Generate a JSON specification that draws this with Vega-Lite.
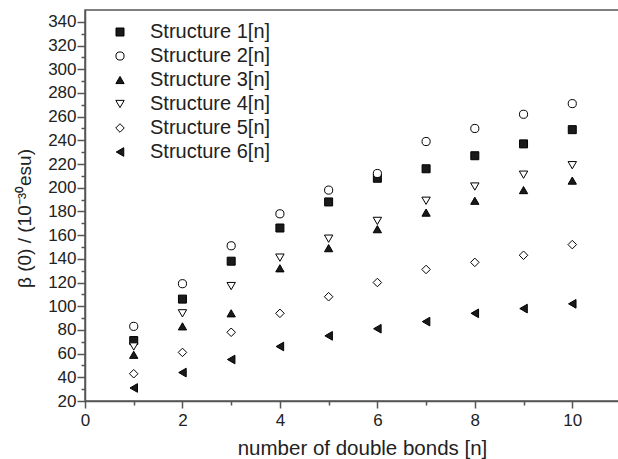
{
  "$schema": "https://vega.github.io/schema/vega-lite/v6.json",
  "autosize": "none",
  "padding": {"left": 85, "top": 10, "right": 0, "bottom": 58},
  "width": 536,
  "height": 391,
  "background": "white",
  "config": {
    "view": {"stroke": "#555", "strokeWidth": 1.5},
    "font": "Liberation Sans",
    "axis": {
      "grid": false,
      "labelFont": "Liberation Sans",
      "titleFont": "Liberation Sans",
      "labelColor": "#222",
      "titleColor": "#222",
      "domainColor": "#555",
      "tickColor": "#555",
      "domainWidth": 1.5,
      "tickWidth": 1.5,
      "labelFontSize": 17,
      "titleFontSize": 21,
      "titleFontWeight": "normal"
    }
  },
  "data": {
    "values": [
      {"n": 1, "s": "Structure 1[n]", "v": 71},
      {"n": 2, "s": "Structure 1[n]", "v": 106},
      {"n": 3, "s": "Structure 1[n]", "v": 138},
      {"n": 4, "s": "Structure 1[n]", "v": 166},
      {"n": 5, "s": "Structure 1[n]", "v": 188},
      {"n": 6, "s": "Structure 1[n]", "v": 208},
      {"n": 7, "s": "Structure 1[n]", "v": 216},
      {"n": 8, "s": "Structure 1[n]", "v": 227},
      {"n": 9, "s": "Structure 1[n]", "v": 237},
      {"n": 10, "s": "Structure 1[n]", "v": 249},
      {"n": 1, "s": "Structure 2[n]", "v": 83},
      {"n": 2, "s": "Structure 2[n]", "v": 119},
      {"n": 3, "s": "Structure 2[n]", "v": 151},
      {"n": 4, "s": "Structure 2[n]", "v": 178},
      {"n": 5, "s": "Structure 2[n]", "v": 198},
      {"n": 6, "s": "Structure 2[n]", "v": 212},
      {"n": 7, "s": "Structure 2[n]", "v": 239},
      {"n": 8, "s": "Structure 2[n]", "v": 250},
      {"n": 9, "s": "Structure 2[n]", "v": 262},
      {"n": 10, "s": "Structure 2[n]", "v": 271},
      {"n": 1, "s": "Structure 3[n]", "v": 59},
      {"n": 2, "s": "Structure 3[n]", "v": 83},
      {"n": 3, "s": "Structure 3[n]", "v": 94},
      {"n": 4, "s": "Structure 3[n]", "v": 132},
      {"n": 5, "s": "Structure 3[n]", "v": 149},
      {"n": 6, "s": "Structure 3[n]", "v": 165},
      {"n": 7, "s": "Structure 3[n]", "v": 179},
      {"n": 8, "s": "Structure 3[n]", "v": 189},
      {"n": 9, "s": "Structure 3[n]", "v": 198},
      {"n": 10, "s": "Structure 3[n]", "v": 206},
      {"n": 1, "s": "Structure 4[n]", "v": 66},
      {"n": 2, "s": "Structure 4[n]", "v": 94},
      {"n": 3, "s": "Structure 4[n]", "v": 117},
      {"n": 4, "s": "Structure 4[n]", "v": 141},
      {"n": 5, "s": "Structure 4[n]", "v": 157},
      {"n": 6, "s": "Structure 4[n]", "v": 172},
      {"n": 7, "s": "Structure 4[n]", "v": 189},
      {"n": 8, "s": "Structure 4[n]", "v": 201},
      {"n": 9, "s": "Structure 4[n]", "v": 211},
      {"n": 10, "s": "Structure 4[n]", "v": 219},
      {"n": 1, "s": "Structure 5[n]", "v": 43},
      {"n": 2, "s": "Structure 5[n]", "v": 61},
      {"n": 3, "s": "Structure 5[n]", "v": 78},
      {"n": 4, "s": "Structure 5[n]", "v": 94},
      {"n": 5, "s": "Structure 5[n]", "v": 108},
      {"n": 6, "s": "Structure 5[n]", "v": 120},
      {"n": 7, "s": "Structure 5[n]", "v": 131},
      {"n": 8, "s": "Structure 5[n]", "v": 137},
      {"n": 9, "s": "Structure 5[n]", "v": 143},
      {"n": 10, "s": "Structure 5[n]", "v": 152},
      {"n": 1, "s": "Structure 6[n]", "v": 31},
      {"n": 2, "s": "Structure 6[n]", "v": 44},
      {"n": 3, "s": "Structure 6[n]", "v": 55},
      {"n": 4, "s": "Structure 6[n]", "v": 66},
      {"n": 5, "s": "Structure 6[n]", "v": 75},
      {"n": 6, "s": "Structure 6[n]", "v": 81},
      {"n": 7, "s": "Structure 6[n]", "v": 87},
      {"n": 8, "s": "Structure 6[n]", "v": 94},
      {"n": 9, "s": "Structure 6[n]", "v": 98},
      {"n": 10, "s": "Structure 6[n]", "v": 102}
    ]
  },
  "mark": {"type": "point", "filled": true, "stroke": "black", "strokeWidth": 1, "opacity": 1},
  "encoding": {
    "x": {
      "field": "n",
      "type": "quantitative",
      "scale": {"domain": [0, 11], "nice": false, "zero": false},
      "axis": {
        "title": "number of double bonds [n]",
        "titleFontSize": 20.5,
        "values": [0, 1, 2, 3, 4, 5, 6, 7, 8, 9, 10, 11],
        "labelExpr": "datum.value % 2 === 0 && datum.value <= 10 ? datum.label : ''",
        "tickSize": {"condition": {"test": "datum.value % 2 === 0", "value": 7}, "value": 4},
        "labelPadding": 4,
        "titlePadding": 10,
        "titleX": 277,
        "labelFlush": false,
        "labelOverlap": false
      }
    },
    "y": {
      "field": "v",
      "type": "quantitative",
      "scale": {"domain": [20, 350], "nice": false, "zero": false},
      "axis": {
        "title": "β (0) / (10⁻³⁰esu)",
        "titleFontSize": 19,
        "values": [20, 30, 40, 50, 60, 70, 80, 90, 100, 110, 120, 130, 140, 150, 160, 170, 180, 190, 200, 210, 220, 230, 240, 250, 260, 270, 280, 290, 300, 310, 320, 330, 340],
        "labelExpr": "datum.value % 20 === 0 ? datum.label : ''",
        "tickSize": {"condition": {"test": "datum.value % 20 === 0", "value": 8}, "value": 4},
        "labelPadding": 1,
        "titlePadding": 13,
        "titleY": 208,
        "labelFlush": false,
        "labelOverlap": false
      }
    },
    "shape": {
      "field": "s",
      "type": "nominal",
      "scale": {"range": ["square", "circle", "triangle-up", "triangle-down", "diamond", "triangle-left"]},
      "legend": {
        "orient": "none",
        "legendX": 25,
        "legendY": 12,
        "title": null,
        "labelFontSize": 20,
        "labelFont": "Liberation Sans",
        "labelColor": "#222",
        "labelOffset": 20,
        "rowPadding": 4,
        "symbolStrokeColor": "black",
        "symbolStrokeWidth": 1,
        "symbolOpacity": 1
      }
    },
    "fill": {
      "field": "s",
      "type": "nominal",
      "scale": {"range": ["#1a1a1a", "white", "#1a1a1a", "white", "white", "#1a1a1a"]}
    },
    "size": {
      "field": "s",
      "type": "nominal",
      "scale": {"range": [64, 75, 110, 100, 86, 114]}
    }
  }
}
